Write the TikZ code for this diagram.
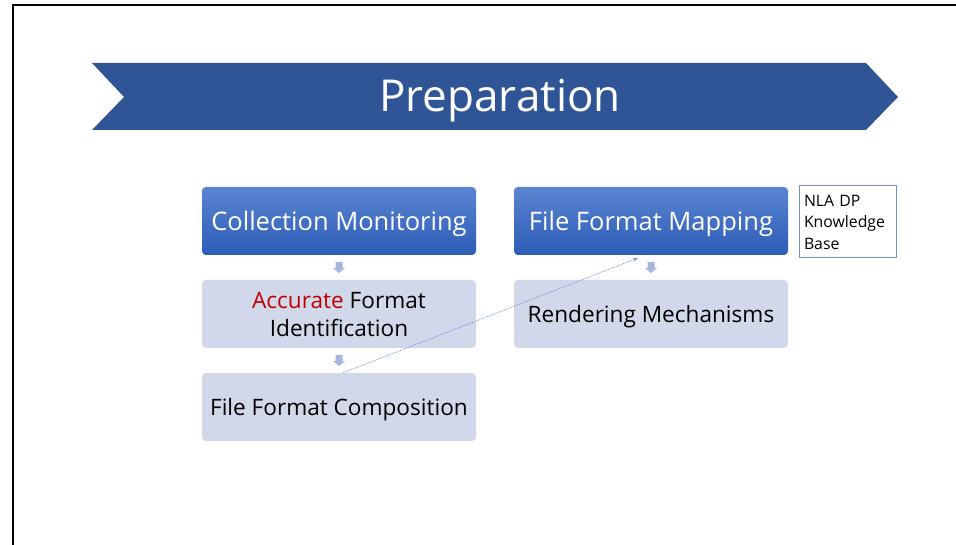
\documentclass[tikz,border=0pt]{standalone}
\usepackage{fontspec}
\setmainfont{Open Sans}
\usetikzlibrary{arrows.meta,shadings}
\definecolor{chev}{HTML}{2F5597}
\definecolor{dtop}{HTML}{5B85D2}
\definecolor{dbot}{HTML}{2C5CB6}
\definecolor{lbox}{HTML}{D0D8EA}
\definecolor{arr}{HTML}{A6B6DC}
\definecolor{acc}{HTML}{C00000}
\definecolor{nla}{HTML}{7090D0}
\tikzset{
  darkbox/.style={rounded corners=4pt, top color=dtop, bottom color=dbot, draw=none,
    minimum width=274pt, minimum height=68pt, text=white, font=\fontsize{25.5}{28}\selectfont, inner sep=0pt, align=center, text depth=0pt},
  lightbox/.style={rounded corners=4pt, fill=lbox, draw=none,
    minimum width=274pt, minimum height=68pt, text=black, font=\fontsize{22.6}{28}\selectfont, inner sep=0pt, align=center, text depth=0pt},
}
\begin{document}
\begin{tikzpicture}[x=1pt,y=-1pt]
\useasboundingbox (0,0) rectangle (956,545);
% frame
\draw[line width=2.5pt, line cap=rect] (13,545) -- (13,5) -- (956,5);
% chevron
\fill[chev] (92,63) -- (866,63) -- (898,97) -- (866,130) -- (92,130) -- (124,97) -- cycle;
\node[text=white, font=\fontsize{44}{50}\selectfont] (title) at (500,101) {Preparation};
% boxes
\node[darkbox] (cm) at (339,221) {Collection Monitoring};
\node[lightbox] (afi) at (339,314) {\textcolor{acc}{Accurate} Format\\Identification};
\node[lightbox] (ffc) at (339,407) {File Format Composition};
\node[darkbox] (ffm) at (651,221) {File Format Mapping};
\node[lightbox] (rm) at (651,314) {Rendering Mechanisms};
\node[draw=nla, line width=1pt, minimum width=97pt, minimum height=72pt, inner sep=0pt, text width=87pt, align=left,
  font=\fontsize{15.8}{21.5}\selectfont] (kb) at (847.5,222) {NLA DP\\Knowledge\\Base};
% small down arrows
\foreach \a/\b in {cm/afi, afi/ffc, ffm/rm}{
  \path (\a.south) -- (\b.north) coordinate[pos=0.5] (m\a);
  \fill[arr] ([shift={(-3.5,-5.5)}]m\a) -- ([shift={(3.5,-5.5)}]m\a) -- ([shift={(3.5,0.5)}]m\a)
     -- ([shift={(6,0.5)}]m\a) -- ([shift={(0,5.5)}]m\a) -- ([shift={(-6,0.5)}]m\a) -- ([shift={(-3.5,0.5)}]m\a) -- cycle;
}
% dotted connector
\coordinate (dstart) at ([xshift=4pt]ffc.north);
\coordinate (dend) at (638,258);
\draw[nla, densely dotted, line width=0.8pt, -{Stealth[length=5pt,width=4pt]}] (dstart) -- (dend);
\end{tikzpicture}
\end{document}
